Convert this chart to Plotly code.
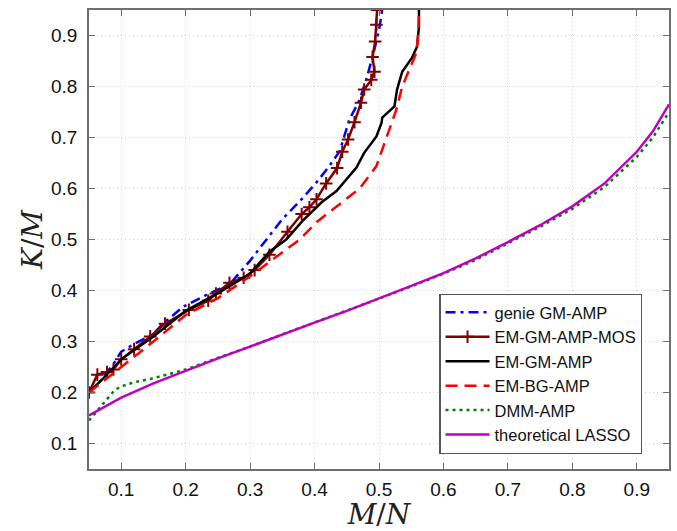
import plotly.graph_objects as go

# ---- data ----
genie_x = [0.05, 0.07, 0.09, 0.10, 0.12, 0.15, 0.165, 0.196, 0.23, 0.268, 0.299, 0.326, 0.350, 0.377, 0.403, 0.423, 0.439, 0.454, 0.470, 0.480, 0.490, 0.500, 0.505]
genie_y = [0.20, 0.225, 0.26, 0.28, 0.295, 0.315, 0.335, 0.368, 0.39, 0.412, 0.457, 0.502, 0.540, 0.575, 0.612, 0.644, 0.673, 0.735, 0.774, 0.813, 0.858, 0.911, 0.95]

mos_x = [0.05, 0.063, 0.078, 0.088, 0.10, 0.12, 0.145, 0.168, 0.205, 0.235, 0.247, 0.268, 0.29, 0.307, 0.33, 0.358, 0.38, 0.392, 0.403, 0.418, 0.435, 0.443, 0.452, 0.462, 0.472, 0.477, 0.488, 0.493, 0.490, 0.494, 0.496, 0.497]
mos_y = [0.20, 0.235, 0.24, 0.245, 0.265, 0.285, 0.31, 0.335, 0.362, 0.38, 0.394, 0.415, 0.425, 0.44, 0.47, 0.515, 0.55, 0.563, 0.579, 0.61, 0.64, 0.672, 0.696, 0.73, 0.768, 0.794, 0.813, 0.829, 0.858, 0.888, 0.921, 0.95]

emgm_x = [0.05, 0.07, 0.10, 0.15, 0.20, 0.25, 0.299, 0.330, 0.356, 0.381, 0.411, 0.434, 0.465, 0.477, 0.496, 0.504, 0.505, 0.524, 0.528, 0.536, 0.551, 0.559, 0.562, 0.562]
emgm_y = [0.20, 0.225, 0.265, 0.31, 0.36, 0.395, 0.432, 0.476, 0.50, 0.536, 0.573, 0.595, 0.641, 0.670, 0.702, 0.729, 0.739, 0.761, 0.794, 0.829, 0.856, 0.878, 0.917, 0.95]

embg_x = [0.05, 0.07, 0.08, 0.10, 0.15, 0.20, 0.25, 0.30, 0.330, 0.377, 0.403, 0.443, 0.470, 0.496, 0.511, 0.527, 0.536, 0.547, 0.558, 0.561, 0.562]
embg_y = [0.20, 0.22, 0.23, 0.25, 0.30, 0.352, 0.385, 0.428, 0.456, 0.50, 0.534, 0.573, 0.60, 0.644, 0.696, 0.755, 0.80, 0.833, 0.866, 0.905, 0.95]

dmm_x = [0.05, 0.06, 0.07, 0.08, 0.09, 0.10, 0.12, 0.15, 0.20, 0.25, 0.30, 0.35, 0.40, 0.45, 0.50, 0.55, 0.60, 0.65, 0.70, 0.75, 0.80, 0.85, 0.90, 0.925, 0.95]
dmm_y = [0.145, 0.16, 0.175, 0.192, 0.205, 0.212, 0.22, 0.228, 0.245, 0.268, 0.29, 0.314, 0.337, 0.36, 0.384, 0.408, 0.433, 0.46, 0.493, 0.525, 0.56, 0.603, 0.662, 0.70, 0.75]

lasso_x = [0.05, 0.10, 0.15, 0.20, 0.25, 0.30, 0.35, 0.40, 0.45, 0.50, 0.55, 0.60, 0.65, 0.70, 0.75, 0.80, 0.85, 0.90, 0.925, 0.95]
lasso_y = [0.155, 0.19, 0.218, 0.243, 0.267, 0.29, 0.314, 0.337, 0.36, 0.384, 0.409, 0.434, 0.463, 0.495, 0.528, 0.565, 0.61, 0.672, 0.712, 0.765]

x_ticks = [0.1, 0.2, 0.3, 0.4, 0.5, 0.6, 0.7, 0.8, 0.9]
y_ticks = [0.1, 0.2, 0.3, 0.4, 0.5, 0.6, 0.7, 0.8, 0.9]

fig = go.Figure()
fig.add_trace(go.Scatter(x=genie_x, y=genie_y, mode="lines", name="genie GM-AMP",
                         line=dict(color="#0000ff", width=2.5, dash="10px,5px,3px,5px")))
fig.add_trace(go.Scatter(x=mos_x, y=mos_y, mode="lines+markers", name="EM-GM-AMP-MOS",
                         line=dict(color="#800000", width=2.5),
                         marker=dict(symbol="cross-thin", size=9, color="#800000",
                                     line=dict(color="#800000", width=2))))
fig.add_trace(go.Scatter(x=emgm_x, y=emgm_y, mode="lines", name="EM-GM-AMP",
                         line=dict(color="#000000", width=2.5)))
fig.add_trace(go.Scatter(x=embg_x, y=embg_y, mode="lines", name="EM-BG-AMP",
                         line=dict(color="#ff0000", width=2.5, dash="12px,7px")))
fig.add_trace(go.Scatter(x=dmm_x, y=dmm_y, mode="lines", name="DMM-AMP",
                         line=dict(color="#008000", width=2.5, dash="3px,4px")))
fig.add_trace(go.Scatter(x=lasso_x, y=lasso_y, mode="lines", name="theoretical LASSO",
                         line=dict(color="#bf00bf", width=2.5)))

axis_common = dict(
    showline=True, mirror="ticks", linecolor="#6e6e6e", linewidth=1.5,
    ticks="inside", ticklen=6, tickcolor="#6e6e6e", tickwidth=1.2,
    showgrid=True, gridcolor="#d4d4d4", gridwidth=1, griddash="1px,3px",
    zeroline=False, tickfont=dict(family="Liberation Sans, Arial", size=19, color="#111"),
)

fig.update_xaxes(range=[0.05, 0.95], tickvals=x_ticks, ticktext=[str(v) for v in x_ticks],
                 ticklabelstandoff=2,
                 title=dict(text="<i>M</i>/<i>N</i>", font=dict(family="DejaVu Serif", size=28, color="#222"),
                            standoff=4),
                 **axis_common)
fig.update_yaxes(range=[0.05, 0.95], tickvals=y_ticks, ticktext=[str(v) for v in y_ticks],
                 ticklabelstandoff=6,
                 title=dict(text="<i>K</i>/<i>M</i>", font=dict(family="DejaVu Serif", size=28, color="#222"),
                            standoff=0),
                 **axis_common)

fig.update_layout(
    width=677, height=531,
    margin=dict(l=89, r=6, t=10, b=62),
    plot_bgcolor="white", paper_bgcolor="white",
    legend=dict(x=0.954, y=0.033, xanchor="right", yanchor="bottom",
                bgcolor="white", bordercolor="#555", borderwidth=1.2,
                font=dict(family="Liberation Sans, Arial", size=16.5, color="#111"),
                tracegroupgap=0, itemwidth=44),
    showlegend=True,
)

fig.write_html("out.html")
